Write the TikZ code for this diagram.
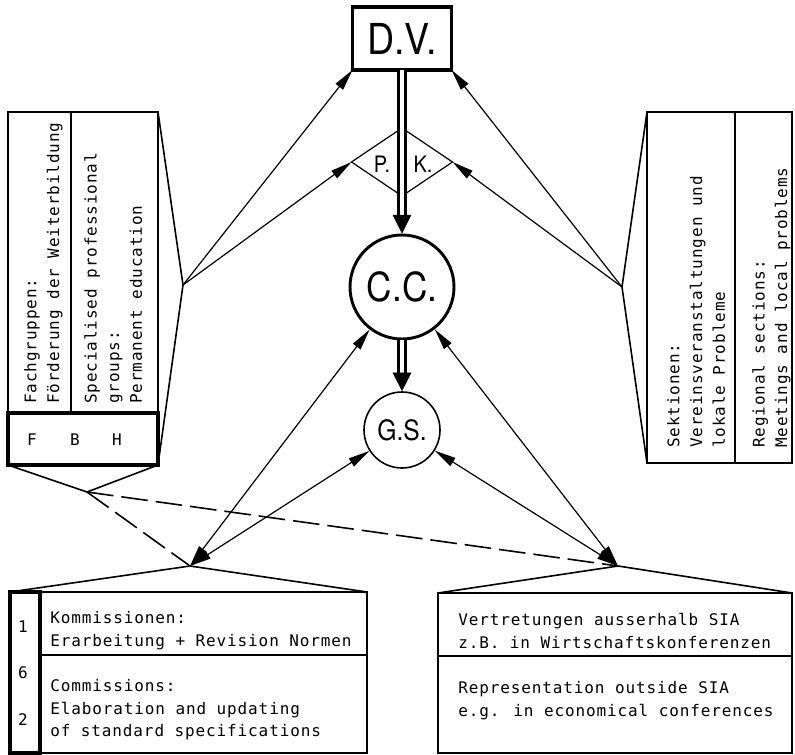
\documentclass[tikz,border=0pt]{standalone}
\usepackage{fontspec}
\setsansfont{TeX Gyre Heros}
\newfontfamily\signfont[FakeStretch=0.88]{TeX Gyre Heros}
\newfontfamily\plotfont[LetterSpace=5.5]{DejaVu Sans Mono}
\usetikzlibrary{arrows.meta,shapes.geometric}

\tikzset{
  box/.style={draw, line width=1.2pt, inner sep=0pt, outer sep=0pt},
  heavybox/.style={draw, line width=2.6pt, inner sep=0pt, outer sep=0pt},
  plot/.style={inner sep=0pt, align=left, font=\plotfont\fontsize{12}{17}\selectfont},
  sign/.style={inner sep=0pt, font=\signfont\fontsize{#1}{#1}\selectfont},
  link/.style={line width=0.9pt, -{Triangle[length=16pt,width=7pt]}},
  duplex/.style={line width=0.9pt, {Triangle[length=16pt,width=7pt]}-{Triangle[length=16pt,width=7pt]}},
  feed/.style={double, line width=1.6pt, double distance=3.6pt},
  funnel/.style={line width=1.2pt},
}

\begin{document}
\begin{tikzpicture}[x=0.75pt,y=0.75pt,yscale=-1,xscale=1]
\useasboundingbox (0,0) rectangle (795,755);

%Shape: Diamond
\node[diamond, draw, line width=0.9pt, minimum width=75.75pt, minimum height=51pt, inner sep=0pt, outer sep=0pt] (pk) at (402,162) {};
\node[sign=17] (pkp) at (382,164) {P.};
\node[sign=17] (pkk) at (423,164) {K.};
%Shape: Rectangle
\node[heavybox, sign=32, minimum width=74.25pt, minimum height=47.25pt] (dv) at (402,38.5) {D.V.};
%Shape: Circle
\node[circle, draw, line width=2.2pt, minimum size=78pt, inner sep=0pt, sign=30] (cc) at (402,287) {C.C.};
%Shape: Circle
\node[circle, draw, line width=1.2pt, minimum size=57pt, inner sep=0pt, sign=21] (gs) at (402,430) {G.S.};

%Double Lines
\draw[feed, shorten >=12pt] (dv) -- (cc);
\draw[-{Triangle[length=14pt,width=14pt]}, line width=0.4pt] ([yshift=-14pt]cc.north) -- (cc.north);
\draw[feed, shorten >=12pt] (cc) -- (gs);
\draw[-{Triangle[length=14pt,width=14pt]}, line width=0.4pt] ([yshift=-14pt]gs.north) -- (gs.north);

%Boxes
\node[box, minimum width=112.5pt, minimum height=225.75pt] (fach) at (83,262.5) {};
\node[heavybox, minimum width=112.5pt, minimum height=39pt] (fbh) at (83,439) {};
\draw[line width=1.2pt] (71,112) -- (71,413);
\node[box, minimum width=108.75pt, minimum height=263.25pt] (sekt) at (719.5,287.5) {};
\draw[line width=1.2pt] (735,112) -- (735,463);
\node[box, minimum width=267.75pt, minimum height=120.75pt] (komm) at (188.5,672.5) {};
\node[heavybox, minimum width=22.5pt, minimum height=120.75pt] (nums) at (25,672.5) {};
\draw[line width=1.2pt] (40,655) -- (367,655);
\node[box, minimum width=265.5pt, minimum height=120pt] (vert) at (615,673) {};
\draw[line width=1.2pt] (438,656) -- (792,656);

\coordinate (lap) at (183,285);
\coordinate (rap) at (622,287);
\coordinate (fbot) at (87,492);
\coordinate (blap) at (190,566);
\coordinate (brap) at (618,566);

%Straight Lines
\draw[funnel] (fach.north east) -- (lap) -- (fbh.south east);
\draw[funnel] (sekt.north west) -- (rap) -- (sekt.south west);
\draw[funnel] (fbh.south west) -- (fbot) -- (fbh.south east);
\draw[funnel] (komm.north west) -- (blap) -- (komm.north east);
\draw[funnel] (vert.north west) -- (brap) -- (vert.north east);
\draw[funnel, dash pattern=on 20pt off 6pt] (fbot) -- (blap);
\draw[funnel, dash pattern=on 20pt off 6pt] (fbot) -- (brap);

%Arrows
\draw[link] (lap) -- (dv.south west);
\draw[link] (lap) -- (pk.west);
\draw[link] (rap) -- (dv.south east);
\draw[link] (rap) -- (pk.east);
\draw[duplex] (blap) -- (cc);
\draw[duplex] (blap) -- (gs);
\draw[duplex] (brap) -- (cc);
\draw[duplex] (brap) -- (gs);

% Text Node
\node[plot, rotate=90, anchor=north west] (fachde) at (24,404) {Fachgruppen:\\Förderung der Weiterbildung};
% Text Node
\node[plot, rotate=90, anchor=north west] (fachen) at (84,404) {Specialised professional\\groups:\\Permanent education};
% Text Node
\node[plot] (fbhf) at (32,440) {F};
\node[plot] (fbhb) at (75,440) {B};
\node[plot] (fbhh) at (117,440) {H};
% Text Node
\node[plot, rotate=90, anchor=north west] (sektde) at (667,448) {Sektionen:\\Vereinsveranstaltungen und\\lokale Probleme};
% Text Node
\node[plot, rotate=90, anchor=north west] (sekten) at (752,448) {Regional sections:\\Meetings and local problems};
% Text Node
\node[plot] (n1) at (23,627) {1};
\node[plot] (n6) at (23,673) {6};
\node[plot] (n2) at (23,720) {2};
% Text Node
\node[plot, anchor=north west] (kommde) at (50,611) {Kommissionen:\\Erarbeitung + Revision Normen};
% Text Node
\node[plot, anchor=north west] (kommen) at (50,679) {Commissions:\\Elaboration and updating\\of standard specifications};
% Text Node
\node[plot, anchor=north west] (vertde) at (458,613) {Vertretungen ausserhalb SIA\\z.B. in Wirtschaftskonferenzen};
% Text Node
\node[plot, anchor=north west] (verten) at (458,681) {Representation outside SIA\\e.g. in economical conferences};
\end{tikzpicture}
\end{document}
